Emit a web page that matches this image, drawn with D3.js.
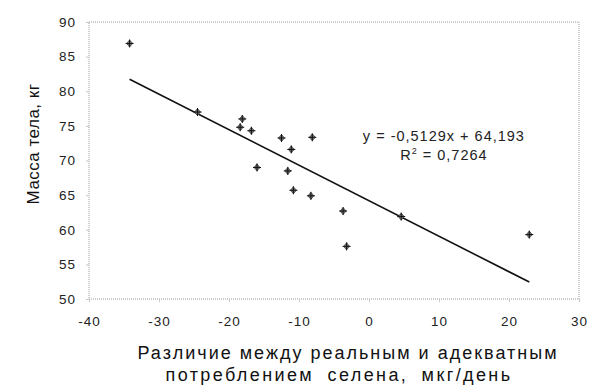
<!DOCTYPE html>
<html>
<head>
<meta charset="utf-8">
<script src="https://cdn.jsdelivr.net/npm/d3@7"></script>
<style>
  body { margin: 0; background: #fff; }
  text { font-family: "Liberation Sans", Arial, sans-serif; }
</style>
</head>
<body>
<div id="chart"></div>
<script>
// Data
const seleniumDiff = [-34.2, -24.5, -18.1, -18.4, -16.8, -12.5, -11.1, -8.1, -16.0, -11.6, -10.8, -8.3, -3.7, -3.2, 4.6, 22.9];
const bodyMass     = [86.9, 77.0, 76.0, 74.8, 74.3, 73.25, 71.6, 73.35, 69.0, 68.5, 65.7, 64.9, 62.7, 57.6, 61.9, 59.3];
const xTicks = [-40, -30, -20, -10, 0, 10, 20, 30];
const yTicks = [50, 55, 60, 65, 70, 75, 80, 85, 90];
const slope = -0.5129, intercept = 64.193;
const eqLabel = "y = -0,5129x + 64,193";
const r2Label = "0,7264";

const width = 590, height = 385;
const margin = { top: 22, right: 11, bottom: 86, left: 89 };
const w = width - margin.left - margin.right,
      h = height - margin.top - margin.bottom;

const svg = d3.select("#chart")
  .append("svg")
  .attr("width", width)
  .attr("height", height)
  .append("g")
  .attr("transform", `translate(${margin.left},${margin.top})`);

const x = d3.scaleLinear().domain([-40, 30]).range([0, w]);
const y = d3.scaleLinear().domain([50, 90]).range([h, 0]);

// plot frame (dotted grey)
svg.append("rect")
  .attr("width", w).attr("height", h)
  .attr("fill", "none")
  .attr("stroke", "#9a9a9a")
  .attr("stroke-dasharray", "1,1");

// axes, plain hyphen for minus like the original
const fmt = d => String(d);
const xAxis = svg.append("g")
  .attr("transform", `translate(0,${h})`)
  .call(d3.axisBottom(x).tickValues(xTicks).tickFormat(fmt).tickSize(3).tickPadding(14));
const yAxis = svg.append("g")
  .call(d3.axisLeft(y).tickValues(yTicks).tickFormat(fmt).tickSize(3).tickPadding(10));

[xAxis, yAxis].forEach(a => {
  a.select(".domain").remove();
  a.selectAll(".tick line").attr("stroke", "#c8c8c8");
  a.selectAll(".tick text")
    .attr("fill", "#222")
    .style("font-size", "13.5px")
    .style("letter-spacing", "1px");
});

// trend line over data range
const xr = d3.extent(seleniumDiff);
svg.append("path")
  .datum(xr)
  .attr("fill", "none")
  .attr("stroke", "#111")
  .attr("stroke-width", 1.6)
  .attr("d", d3.line().x(d => x(d)).y(d => y(slope * d + intercept)));

// markers: diamond with cross
const pts = svg.selectAll(".pt")
  .data(seleniumDiff.map((d, i) => [d, bodyMass[i]]))
  .enter().append("g")
  .attr("transform", d => `translate(${x(d[0])},${y(d[1])})`);
pts.append("path")
  .attr("d", "M0,-3.5L3,0L0,3.5L-3,0Z")
  .attr("fill", "#777")
  .attr("stroke", "#444")
  .attr("stroke-width", 0.8);
pts.append("path")
  .attr("d", "M-4,0H4M0,-4V4")
  .attr("stroke", "#111")
  .attr("stroke-width", 1);

// equation
const eqX = x(10.7);
svg.append("text")
  .attr("x", eqX).attr("y", y(72.8))
  .attr("text-anchor", "middle")
  .style("font-size", "14.5px")
  .style("letter-spacing", "1px")
  .attr("fill", "#222")
  .text(eqLabel);
const r2 = svg.append("text")
  .attr("x", eqX).attr("y", y(70.1))
  .attr("text-anchor", "middle")
  .style("font-size", "14.5px")
  .style("letter-spacing", "1px")
  .attr("fill", "#222");
r2.append("tspan").text("R");
r2.append("tspan").attr("dy", -6).style("font-size", "9px").text("2");
r2.append("tspan").attr("dy", 6).text(" = " + r2Label);

// axis titles
svg.append("text")
  .attr("transform", `translate(${33 - margin.left},${144 - margin.top}) rotate(-90)`)
  .attr("text-anchor", "middle")
  .attr("dy", "0.35em")
  .style("font-size", "17px")
  .style("letter-spacing", "0.5px")
  .attr("fill", "#111")
  .text("Масса тела, кг");

const xt = svg.append("text")
  .attr("text-anchor", "middle")
  .style("font-size", "18px")
  .style("letter-spacing", "2px")
  .attr("fill", "#111");
xt.append("tspan").attr("x", 348 - margin.left).attr("y", 359 - margin.top)
  .text("Различие между реальным и адекватным");
xt.append("tspan").attr("x", 339 - margin.left).attr("y", 381 - margin.top)
  .style("letter-spacing", "2.4px")
  .style("word-spacing", "6px")
  .text("потреблением селена, мкг/день");
</script>
</body>
</html>
